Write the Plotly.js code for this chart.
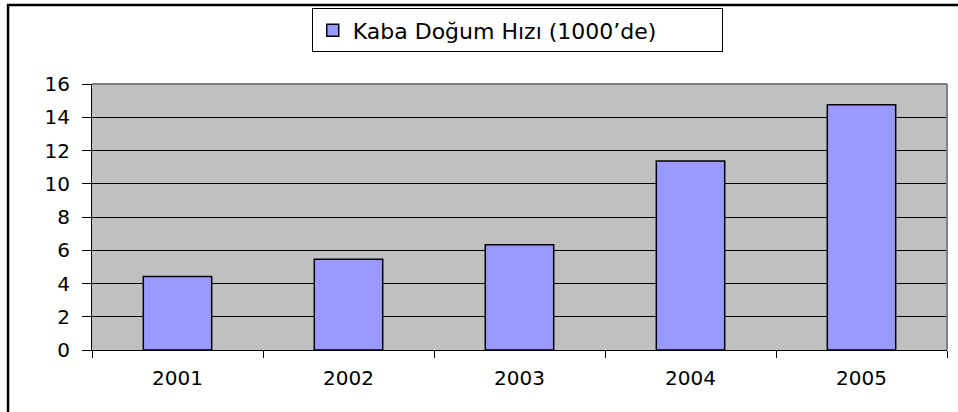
<!DOCTYPE html>
<html>
<head>
<meta charset="utf-8">
<script src="https://cdn.plot.ly/plotly-3.0.1.min.js"></script>
<style>html,body{margin:0;padding:0;background:#fff;}#chart{width:958px;height:412px;}</style>
</head>
<body>
<div id="chart"></div>
<script>
const years = ['2001', '2002', '2003', '2004', '2005'];
const birthRate = [4.42, 5.46, 6.33, 11.37, 14.75];
const seriesName = 'Kaba Doğum Hızı (1000’de)';
const yTicks = [0, 2, 4, 6, 8, 10, 12, 14, 16];

const trace = {
  type: 'bar',
  x: years,
  y: birthRate,
  name: seriesName,
  marker: {color: '#9999FF', line: {color: '#000000', width: 1.5}},
  showlegend: true
};

const layout = {
  width: 958, height: 412,
  margin: {l: 92, r: 11, t: 84, b: 62, autoexpand: false},
  paper_bgcolor: '#ffffff',
  plot_bgcolor: '#C0C0C0',
  font: {family: 'DejaVu Sans, Arial, sans-serif', size: 20, color: '#000'},
  bargap: 0.6,
  xaxis: {
    type: 'category',
    showline: true, linecolor: '#000', linewidth: 1,
    ticks: 'outside', tickson: 'boundaries', ticklen: 7, tickcolor: '#000', tickwidth: 1,
    showgrid: false, zeroline: false,
    tickfont: {size: 20},
    ticklabelstandoff: 10
  },
  yaxis: {
    range: [0, 16], tickvals: yTicks,
    showline: true, linecolor: '#000', linewidth: 1,
    ticks: 'outside', ticklen: 9, tickcolor: '#000', tickwidth: 1,
    showgrid: true, gridcolor: '#000', gridwidth: 1,
    zeroline: false,
    tickfont: {size: 20},
    ticklabelstandoff: 8
  },
  legend: {
    x: 0.257, y: 1.284, xanchor: 'left', yanchor: 'top',
    bgcolor: '#fff', bordercolor: '#000', borderwidth: 1,
    font: {size: 22}, orientation: 'h',
    entrywidth: 364
  },
  shapes: [
    {type: 'line', xref: 'paper', yref: 'paper', x0: 0, x1: 1, y0: 1, y1: 1, line: {color: '#808080', width: 2}},
    {type: 'line', xref: 'paper', yref: 'paper', x0: 1, x1: 1, y0: 0, y1: 1, line: {color: '#808080', width: 2}},
    {type: 'path', xref: 'paper', yref: 'paper', path: 'M -0.0982 -0.3 L -0.0982 1.297 L 1.05 1.297', line: {color: '#000', width: 2.5}}
  ]
};

Plotly.newPlot('chart', [trace], layout, {displayModeBar: false, staticPlot: true});
</script>
</body>
</html>
